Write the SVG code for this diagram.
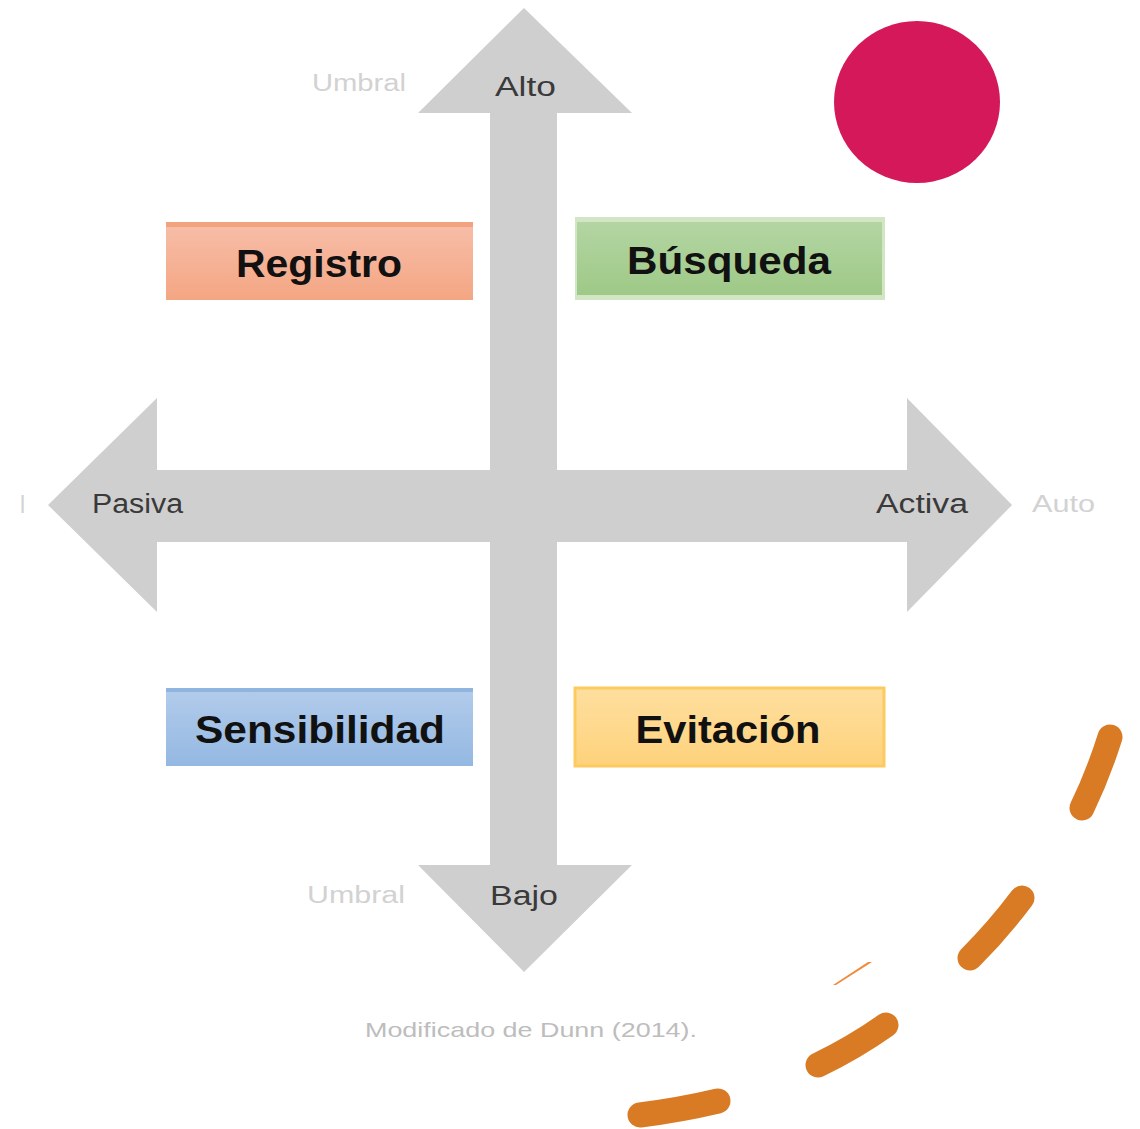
<svg xmlns="http://www.w3.org/2000/svg" width="1140" height="1129" viewBox="0 0 1140 1129">
<style>
.lbl{font-family:"Liberation Sans",Arial,sans-serif;font-size:27px;fill:#3a3a3a}
.faint{font-family:"Liberation Sans",Arial,sans-serif;font-size:23px;fill:#d2d2d2}
.box{font-family:"Liberation Sans",Arial,sans-serif;font-weight:bold;font-size:38px;fill:#111;text-anchor:middle}
.dash{fill:none;stroke:#d97b24;stroke-width:25;stroke-linecap:round}
</style>
<defs>
<linearGradient id="gR" x1="0" y1="0" x2="0" y2="1"><stop offset="0" stop-color="#f7bea9"/><stop offset="1" stop-color="#f4a683"/></linearGradient>
<linearGradient id="gG" x1="0" y1="0" x2="0" y2="1"><stop offset="0" stop-color="#b4d5a3"/><stop offset="1" stop-color="#9ec987"/></linearGradient>
<linearGradient id="gB" x1="0" y1="0" x2="0" y2="1"><stop offset="0" stop-color="#b3cceb"/><stop offset="1" stop-color="#94b8e2"/></linearGradient>
<linearGradient id="gY" x1="0" y1="0" x2="0" y2="1"><stop offset="0" stop-color="#fedf9f"/><stop offset="1" stop-color="#fed27c"/></linearGradient>
</defs>
<rect width="1140" height="1129" fill="#ffffff"/>
<g id="axes" fill="#d0cfd0">
<polygon points="524,8 632,113 557,113 557,865 632,865 524,972 418,865 490,865 490,113 418,113"/>
<polygon points="48,505 157,398 157,470 907,470 907,398 1012,505 907,612 907,542 157,542 157,612"/>
</g>
<g id="axis-labels">
<text class="lbl" x="495" y="96" textLength="61" lengthAdjust="spacingAndGlyphs">Alto</text>
<text class="lbl" x="490" y="905" textLength="68" lengthAdjust="spacingAndGlyphs">Bajo</text>
<text class="lbl" x="92" y="513" textLength="91" lengthAdjust="spacingAndGlyphs">Pasiva</text>
<text class="lbl" x="876" y="513" textLength="92" lengthAdjust="spacingAndGlyphs">Activa</text>
<text class="faint" x="312" y="91" textLength="94" lengthAdjust="spacingAndGlyphs">Umbral</text>
<text class="faint" x="307" y="903" textLength="98" lengthAdjust="spacingAndGlyphs">Umbral</text>
<text class="faint" x="1032" y="512" textLength="63" lengthAdjust="spacingAndGlyphs">Auto</text>
<text class="faint" x="20" y="513">l</text>
</g>
<g id="registro">
<rect x="166" y="222" width="307" height="78" fill="url(#gR)"/>
<rect x="166" y="222" width="307" height="5" fill="#f2a27f"/>
<text class="box" x="319" y="277" textLength="166" lengthAdjust="spacingAndGlyphs">Registro</text>
</g>
<g id="busqueda">
<rect x="575" y="217" width="310" height="83" fill="#d2e6c6"/>
<rect x="577" y="222" width="305" height="73" fill="url(#gG)"/>
<text class="box" x="729" y="274" textLength="204" lengthAdjust="spacingAndGlyphs">Búsqueda</text>
</g>
<g id="sensibilidad">
<rect x="166" y="688" width="307" height="78" fill="url(#gB)"/>
<rect x="166" y="688" width="307" height="4" fill="#8fb4e0"/>
<text class="box" x="320" y="743" textLength="250" lengthAdjust="spacingAndGlyphs">Sensibilidad</text>
</g>
<g id="evitacion">
<rect x="575" y="688" width="309" height="78" fill="url(#gY)"/>
<rect x="575" y="688" width="309" height="78" fill="none" stroke="#fdca5f" stroke-width="3"/>
<text class="box" x="728" y="743" textLength="185" lengthAdjust="spacingAndGlyphs">Evitación</text>
</g>
<g id="caption">
<text class="faint" x="365" y="1037" style="fill:#bdbdbd;font-size:21px" textLength="332" lengthAdjust="spacingAndGlyphs">Modificado de Dunn (2014).</text>
</g>
<g id="decor">
<ellipse cx="917" cy="102" rx="83" ry="81" fill="#d4185a"/>
<path class="dash" d="M1110,737 Q1098,775 1082,808"/>
<path class="dash" d="M1022,898 Q998,930 970,958"/>
<path class="dash" d="M886,1025 Q855,1047 818,1065"/>
<path class="dash" d="M718,1101 Q680,1110 640,1115"/>
<polygon points="833,985 868,962 872,962 836,985" fill="#f08a3c"/>
</g>
</svg>
